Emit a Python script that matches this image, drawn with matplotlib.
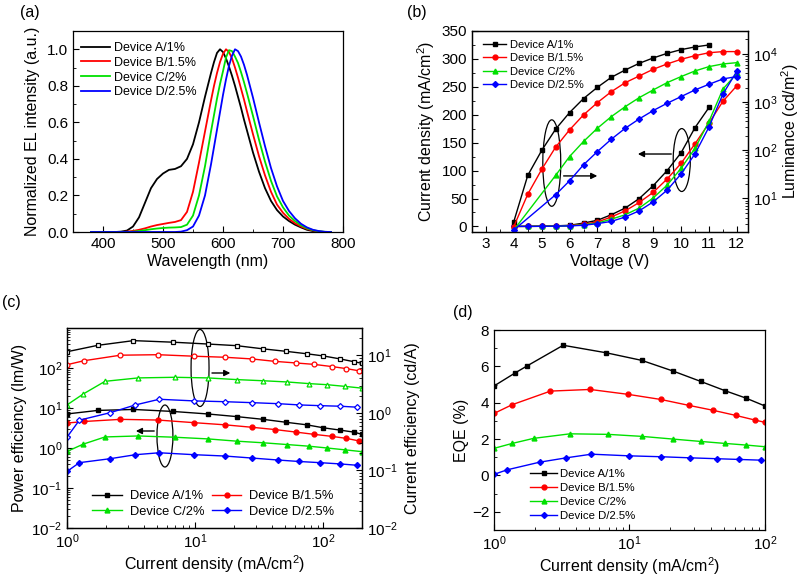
import matplotlib
matplotlib.use('Agg')
import matplotlib.pyplot as plt
from matplotlib.patches import Ellipse
from matplotlib.ticker import MultipleLocator, LogLocator

plt.rcParams['font.family'] = ['Liberation Sans', 'DejaVu Sans']
plt.rcParams['mathtext.fontset'] = 'custom'
plt.rcParams['mathtext.rm'] = 'Liberation Sans'
plt.rcParams['mathtext.it'] = 'Liberation Sans:italic'
plt.rcParams['mathtext.default'] = 'regular'

# — shared —
LABELS = ['Device A/1%', 'Device B/1.5%', 'Device C/2%', 'Device D/2.5%']
COLORS = ['black', 'red', '#00e000', 'blue']
MARKERS = ['s', 'o', '^', 'D']

# — (a) EL spectra —
wl = [380, 390, 400, 410, 420, 430, 440, 450, 460, 470, 480, 490, 500, 510, 520, 530,
      540, 550, 560, 570, 580, 585, 590, 595, 600, 605, 610, 615, 620, 625, 630, 635,
      640, 650, 660, 670, 680, 690, 700, 710, 720, 730, 740, 750, 760, 770, 780]
el_A = [0, 0, 0, 0, 0, 0.002, 0.008, 0.03, 0.08, 0.16, 0.24, 0.29, 0.32, 0.34, 0.345, 0.36,
        0.40, 0.48, 0.60, 0.74, 0.87, 0.93, 0.98, 1.0, 0.985, 0.95, 0.905, 0.855, 0.80, 0.74, 0.68, 0.615,
        0.555, 0.435, 0.33, 0.24, 0.17, 0.12, 0.085, 0.06, 0.04, 0.025, 0.012, 0.005, 0.001, 0, 0]
el_B = [0, 0, 0, 0, 0, 0, 0.002, 0.006, 0.012, 0.02, 0.03, 0.038, 0.044, 0.05, 0.055, 0.065,
        0.11, 0.22, 0.38, 0.55, 0.72, 0.80, 0.87, 0.93, 0.975, 1.0, 0.985, 0.95, 0.90, 0.845, 0.785, 0.725,
        0.66, 0.535, 0.415, 0.31, 0.22, 0.15, 0.105, 0.072, 0.048, 0.03, 0.017, 0.008, 0.003, 0, 0]
el_C = [0, 0, 0, 0, 0, 0, 0, 0.002, 0.005, 0.01, 0.015, 0.019, 0.022, 0.024, 0.025, 0.027,
        0.04, 0.09, 0.20, 0.36, 0.55, 0.64, 0.73, 0.81, 0.88, 0.955, 0.995, 0.99, 0.96, 0.925, 0.875, 0.82,
        0.76, 0.635, 0.505, 0.385, 0.28, 0.195, 0.135, 0.09, 0.06, 0.037, 0.02, 0.01, 0.004, 0.001, 0]
el_D = [0, 0, 0, 0, 0, 0, 0, 0, 0, 0, 0, 0, 0, 0, 0, 0.002,
        0.01, 0.03, 0.09, 0.20, 0.37, 0.465, 0.56, 0.655, 0.75, 0.835, 0.91, 0.965, 1.0, 0.99, 0.96, 0.915,
        0.86, 0.735, 0.60, 0.47, 0.35, 0.25, 0.17, 0.115, 0.075, 0.045, 0.025, 0.012, 0.005, 0.001, 0]

# — (b) J-V-L —
V_A = [4, 4.5, 5, 5.5, 6, 6.5, 7, 7.5, 8, 8.5, 9, 9.5, 10, 10.5, 11]
V_B = [4, 4.5, 5, 5.5, 6, 6.5, 7, 7.5, 8, 8.5, 9, 9.5, 10, 10.5, 11, 11.5, 12]
J_A = [0, 0.3, 0.6, 1.0, 2, 6, 11, 21, 33, 50, 73, 100, 132, 177, 213]
J_B = [0, 0, 0.3, 0.8, 1.5, 4, 8, 17, 28, 43, 61, 85, 113, 148, 185, 224, 252]
J_C = [0, 0, 0.2, 0.5, 1, 3, 6, 13, 21, 33, 51, 74, 104, 140, 188, 246, 274]
J_D = [0, 0, 0.2, 0.5, 1, 2, 5, 9, 17, 28, 44, 65, 94, 130, 178, 237, 278]
V_CD = [4, 5.5, 6, 6.5, 7, 7.5, 8, 8.5, 9, 9.5, 10, 10.5, 11, 11.5, 12]
L_A = [3.3, 30, 99, 274, 607, 1184, 2033, 3280, 4660, 6400, 8260, 10300, 12300, 14000, 15400]
L_B = [2.6, 12.2, 40, 116, 265, 542, 977, 1650, 2540, 3490, 4810, 6200, 7740, 9230, 10600, 11200, 11200]
L_C = [2.2, 30, 74, 152, 287, 501, 807, 1240, 1790, 2540, 3390, 4440, 5460, 6200, 6600]
L_D = [2.2, 11.9, 23.2, 49.8, 94, 170, 287, 448, 667, 946, 1300, 1790, 2340, 3030, 3390]

# — (c) PE and CE vs J —
jc_A = [1, 1.74, 3.3, 6.7, 12.5, 21, 34, 51, 74, 100, 135, 172, 200]
jc_B = [1, 1.36, 2.61, 5.12, 9.78, 17, 27.6, 41.6, 61, 84, 117, 151, 190]
jc_C = [1, 1.34, 1.98, 3.6, 6.9, 12.5, 21.2, 34, 52, 77, 107, 147, 200]
jc_D = [1, 1.25, 2.17, 3.42, 5.24, 9.84, 17, 27.9, 44.5, 64.6, 94, 135, 183]
pe_A = [7.1, 8.7, 9.2, 8.2, 7.1, 6.1, 5.2, 4.4, 3.8, 3.2, 2.8, 2.5, 2.2]
pe_B = [4.2, 4.6, 5.2, 5.0, 4.3, 3.8, 3.3, 2.9, 2.5, 2.2, 1.95, 1.74, 1.5]
pe_C = [0.82, 1.25, 1.89, 2.0, 1.86, 1.69, 1.48, 1.35, 1.22, 1.11, 1.0, 0.90, 0.81]
pe_D = [0.26, 0.43, 0.54, 0.68, 0.76, 0.68, 0.63, 0.56, 0.50, 0.46, 0.43, 0.40, 0.37]
ce_A = [11.6, 15.0, 18.1, 17.0, 15.8, 14.8, 13.0, 11.8, 10.7, 9.8, 8.7, 7.8, 7.3]
ce_B = [6.9, 8.1, 10.1, 10.3, 9.7, 9.3, 8.7, 7.9, 7.4, 7.0, 6.4, 5.9, 5.4]
ce_C = [1.38, 2.14, 3.55, 4.07, 4.17, 4.07, 3.8, 3.63, 3.46, 3.24, 3.1, 2.9, 2.7]
ce_D = [0.38, 0.75, 1.01, 1.38, 1.73, 1.62, 1.57, 1.51, 1.45, 1.38, 1.34, 1.31, 1.26]

# — (d) EQE vs J —
jd_A = [1, 1.44, 1.75, 3.24, 6.7, 12.3, 21, 33.6, 50.8, 72, 100]
jd_B = [1, 1.36, 2.61, 5.12, 9.78, 17.0, 27.6, 41.6, 61, 84, 100]
jd_C = [1, 1.36, 1.96, 3.64, 6.96, 12.3, 21, 33.6, 51, 73, 100]
jd_D = [1, 1.25, 2.17, 3.42, 5.24, 9.84, 17.0, 27.9, 44.5, 64.6, 94]
eqe_A = [4.92, 5.65, 6.02, 7.16, 6.75, 6.33, 5.74, 5.17, 4.66, 4.26, 3.82]
eqe_B = [3.41, 3.89, 4.64, 4.73, 4.46, 4.18, 3.85, 3.58, 3.30, 3.05, 2.92]
eqe_C = [1.49, 1.76, 2.04, 2.29, 2.26, 2.15, 2.0, 1.87, 1.76, 1.67, 1.58]
eqe_D = [0.06, 0.31, 0.73, 0.97, 1.17, 1.08, 1.03, 0.97, 0.92, 0.88, 0.84]

W, H = 803, 576
fig = plt.figure(figsize=(W / 100, H / 100), dpi=100)


def box(l, t, r, b):
    return [l / W, 1 - b / H, (r - l) / W, (b - t) / H]


def style(ax, right=False):
    ax.tick_params(which='both', direction='in', top=False, right=right, left=not right,
                   labelsize=11)
    ax.tick_params(which='major', length=4, width=0.8)
    ax.tick_params(which='minor', length=2, width=0.6)
    for s in ax.spines.values():
        s.set_linewidth(0.9)


def legend(ax, x, y, fs, spacing, hl, tp, handles=None, labels=None, **kw):
    args = (handles, labels) if handles else ()
    ax.legend(*args, loc='upper left', bbox_to_anchor=(x, y), frameon=False, fontsize=fs,
              borderpad=0, borderaxespad=0, labelspacing=spacing, handlelength=hl,
              handletextpad=tp, **kw)


def arrow(ax, x0, x1, y):
    ax.annotate('', xy=(x1, y), xytext=(x0, y), xycoords='axes fraction',
                arrowprops=dict(arrowstyle='-|>', color='black', lw=1, mutation_scale=9))


def ring(ax, cx, cy, w, h):
    ax.add_patch(Ellipse((cx, cy), w, h, transform=ax.transAxes,
                         fill=False, ec='black', lw=0.9))


# ---------- (a) ----------
ax = fig.add_axes(box(73, 31, 343, 232))
for y, c, lab in zip([el_A, el_B, el_C, el_D], COLORS, LABELS):
    ax.plot(wl, y, color=c, lw=1.3, label=lab)
ax.set_xlim(350, 800)
ax.set_ylim(0, 1.1)
ax.xaxis.set_major_locator(MultipleLocator(100))
ax.xaxis.set_minor_locator(MultipleLocator(50))
ax.yaxis.set_major_locator(MultipleLocator(0.2))
ax.yaxis.set_minor_locator(MultipleLocator(0.1))
ax.yaxis.set_major_formatter(plt.FormatStrFormatter('%.1f'))
style(ax)
ax.set_xlabel('Wavelength (nm)', fontsize=11.5, labelpad=2)
ax.set_ylabel('Normalized EL intensity (a.u.)', fontsize=11.5, labelpad=5)
legend(ax, 0.03, 0.945, 9, 0.22, 2.3, 0.3)

# ---------- (b) ----------
ax = fig.add_axes(box(472, 31, 748, 232))
ax2 = ax.twinx()
for v, j, c, m, lab in zip([V_A, V_B, V_B, V_B], [J_A, J_B, J_C, J_D], COLORS, MARKERS, LABELS):
    ax.plot(v, j, color=c, marker=m, ms=3.5 if m != 'D' else 3, lw=1, label=lab)
for v, l, c, m in zip([V_A, V_B, V_CD, V_CD], [L_A, L_B, L_C, L_D], COLORS, MARKERS):
    ax2.plot(v, l, color=c, marker=m, ms=3.5 if m != 'D' else 3, lw=1)
ax.set_xlim(2.5, 12.4)
ax.set_ylim(-10, 350)
ax.xaxis.set_major_locator(MultipleLocator(1))
ax.xaxis.set_minor_locator(MultipleLocator(0.5))
ax.yaxis.set_major_locator(MultipleLocator(50))
ax.yaxis.set_minor_locator(MultipleLocator(25))
ax2.set_yscale('log')
ax2.set_ylim(2, 3e4)
ax2.yaxis.set_major_locator(LogLocator(base=10, numticks=10))
style(ax)
style(ax2, right=True)
ax.set_xlabel('Voltage (V)', fontsize=11.5, labelpad=2)
ax.set_ylabel('Current density (mA/cm$^2$)', fontsize=11.5, labelpad=3)
ax2.set_ylabel('Luminance (cd/m$^2$)', fontsize=11.5, labelpad=1)
legend(ax, 0.04, 0.955, 8, 0.3, 2.1, 0.35)
ring(ax, 0.289, 0.343, 0.065, 0.43)
ring(ax, 0.760, 0.358, 0.062, 0.313)
arrow(ax, 0.322, 0.464, 0.279)
arrow(ax, 0.732, 0.591, 0.388)

# ---------- (c) ----------
ax = fig.add_axes(box(67, 328, 362, 528))
ax2 = ax.twinx()
lines = []
for x, pe, ce, c, m, lab in zip([jc_A, jc_B, jc_C, jc_D], [pe_A, pe_B, pe_C, pe_D],
                                [ce_A, ce_B, ce_C, ce_D], COLORS, MARKERS, LABELS):
    ms = 3.5 if m != 'D' else 3
    lines += ax.plot(x, pe, color=c, marker=m, ms=ms, lw=1, label=lab)
    ax2.plot(x, ce, color=c, marker=m, ms=ms, lw=1, mfc='white', mew=0.9)
ax.set_xscale('log')
ax.set_yscale('log')
ax2.set_yscale('log')
ax.set_xlim(1, 200)
ax.set_ylim(1e-2, 1e3)
ax.set_yticks([1e-2, 1e-1, 1, 10, 100])
ax2.set_ylim(1e-2, 30)
ax2.set_yticks([1e-2, 1e-1, 1, 10])
style(ax)
style(ax2, right=True)
ax.set_xlabel('Current density (mA/cm$^2$)', fontsize=11.5, labelpad=1)
ax.set_ylabel('Power efficiency (lm/W)', fontsize=11.5, labelpad=3)
ax2.set_ylabel('Current efficiency (cd/A)', fontsize=11.5, labelpad=5)
order = [0, 2, 1, 3]
legend(ax, 0.085, 0.19, 9.3, 0.3, 2.3, 0.6,
       handles=[lines[i] for i in order], labels=[LABELS[i] for i in order],
       ncol=2, columnspacing=0.6)
ring(ax, 0.451, 0.80, 0.061, 0.385)
ring(ax, 0.332, 0.46, 0.054, 0.31)
arrow(ax, 0.482, 0.563, 0.775)
arrow(ax, 0.305, 0.224, 0.485)

# ---------- (d) ----------
ax = fig.add_axes(box(494, 330, 765, 530))
for x, y, c, m, lab in zip([jd_A, jd_B, jd_C, jd_D], [eqe_A, eqe_B, eqe_C, eqe_D],
                           COLORS, MARKERS, LABELS):
    ax.plot(x, y, color=c, marker=m, ms=3.5 if m != 'D' else 3, lw=1, label=lab)
ax.set_xscale('log')
ax.set_xlim(1, 100)
ax.set_ylim(-3, 8)
ax.yaxis.set_major_locator(MultipleLocator(2))
ax.yaxis.set_minor_locator(MultipleLocator(1))
style(ax)
ax.set_xlabel('Current density (mA/cm$^2$)', fontsize=11.5, labelpad=1)
ax.set_ylabel('EQE (%)', fontsize=11.5, labelpad=2)
legend(ax, 0.133, 0.305, 8.2, 0.36, 2.4, 0.2)

# panel letters
for txt, x, y in [('(a)', 20, 12), ('(b)', 407, 12), ('(c)', 2, 303), ('(d)', 453, 313)]:
    fig.text(x / W, 1 - y / H, txt, fontsize=11.5, va='center', ha='left')

fig.savefig('out.png', dpi=100)
